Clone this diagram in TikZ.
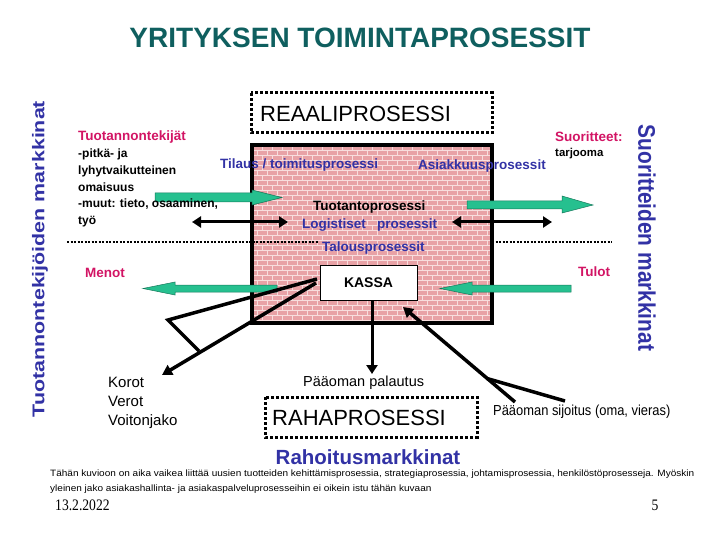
\documentclass[tikz,border=0pt]{standalone}
\usepackage{fontspec}
\setmainfont{Liberation Sans}
\newfontfamily\seriffont{Liberation Serif}
\usetikzlibrary{arrows.meta}
\definecolor{titlecol}{RGB}{15,95,95}
\definecolor{bluetxt}{RGB}{50,50,165}
\definecolor{magtxt}{RGB}{210,20,100}
\definecolor{brickcol}{RGB}{232,162,166}
\definecolor{mortarcol}{RGB}{248,222,222}
\definecolor{tealfill}{RGB}{38,192,143}
\definecolor{tealline}{RGB}{20,120,90}
\tikzset{
  bigbox/.style={draw=black, line width=3pt, dash pattern=on 3pt off 2pt},
  sepline/.style={draw=black, line width=1.4pt, dash pattern=on 2pt off 1.5pt},
  blockarrow/.style={fill=tealfill, draw=tealline, line width=0.5pt},
  blackarrow/.style={draw=black, line width=3pt, -{Triangle[length=9pt,width=11pt]}},
  dblarrow/.style={draw=black, line width=3pt, {Triangle[length=9pt,width=11pt]}-{Triangle[length=9pt,width=11pt]}},
  thickline/.style={draw=black, line width=3.5pt, line join=miter},
  bluebold/.style={text=bluetxt, font=\bfseries\fontsize{13.5}{15}\selectfont, inner sep=0pt},
  magbold/.style={text=magtxt, font=\bfseries\fontsize{13.5}{15}\selectfont, inner sep=0pt},
  plain/.style={inner sep=0pt},
}
\begin{document}
\begin{tikzpicture}[x=1pt,y=-1pt]
\useasboundingbox (0,0) rectangle (720,540);
% title
\node[plain, text=titlecol, font=\bfseries\fontsize{28}{30}\selectfont] (title) at (360,38) {YRITYKSEN TOIMINTAPROSESSIT};
% vertical labels
\node[plain, text=bluetxt, rotate=90] (leftmk) at (40,259) {\scalebox{1.26}[1]{\bfseries\fontsize{17}{19}\selectfont Tuotannontekijöiden markkinat}};
\node[plain, text=bluetxt, rotate=-90] (rightmk) at (647,238) {\scalebox{0.87}[1]{\bfseries\fontsize{24}{26}\selectfont Suoritteiden markkinat}};
% brick box
\begin{scope}
\clip (252,145) rectangle (492,323);
\fill[brickcol] (252,145) rectangle (492,323);
\foreach \r in {0,...,36} {
  \pgfmathsetmacro\yy{145+5*\r}
  \pgfmathsetmacro\off{mod(\r,2)*5}
  \draw[mortarcol, line width=0.9pt] (252,\yy) -- (492,\yy);
  \foreach \c in {0,...,24} {
    \draw[mortarcol, line width=0.9pt] ({252+\off+10*\c},\yy) -- ++(0,5);
  }
}
\end{scope}
\draw[line width=4pt] (252,145) rectangle (492,323);
% separator
\draw[sepline] (67,242) -- (318,242);
\draw[sepline] (492,242) -- (612,242);
% REAALIPROSESSI
\draw[bigbox] (251,93) rectangle (492,133);
\node[plain, anchor=west, font=\fontsize{22}{24}\selectfont] (reaali) at (260,114) {REAALIPROSESSI};
% RAHAPROSESSI
\draw[bigbox] (265,397) rectangle (477,437);
\node[plain, anchor=west, font=\fontsize{22}{24}\selectfont] (raha) at (272,418) {RAHAPROSESSI};
% teal block arrows
\draw[blockarrow] (155,193) -- (252,193) -- (252,190) -- (282,197.5) -- (252,205) -- (252,202) -- (155,202) -- cycle;
\draw[blockarrow] (467,201) -- (562,201) -- (562,196) -- (593,205) -- (562,213) -- (562,209) -- (467,209) -- cycle;
\draw[blockarrow] (277,285) -- (175,285) -- (175,282) -- (143,288.5) -- (175,295) -- (175,292) -- (277,292) -- cycle;
\draw[blockarrow] (571,285) -- (472,285) -- (472,282) -- (440,288.5) -- (472,295) -- (472,292) -- (571,292) -- cycle;
% texts in box
\node[bluebold, anchor=west] (tilaus) at (220,165) {Tilaus / toimitusprosessi};
\node[bluebold, anchor=west] (asiakas) at (418,166) {Asiakkuusprosessit};
\node[plain, anchor=west, font=\bfseries\fontsize{13.5}{15}\selectfont] (tuot) at (313,207) {Tuotantoprosessi};
\node[bluebold, anchor=west] (logist) at (302,225) {Logistiset\ \ \ prosessit};
\node[bluebold, anchor=west] (talous) at (322,248) {Talousprosessit};
% KASSA
\node[draw=black, fill=white, line width=0.6pt, minimum width=97pt, minimum height=35pt, inner sep=0pt, font=\bfseries\fontsize{14}{16}\selectfont] (kassa) at (368.5,282.5) {KASSA};
% left texts
\node[magbold, anchor=west] (tekijat) at (78,137) {Tuotannontekijät};
\node[plain, anchor=north west, align=left, font=\bfseries\fontsize{12}{16.7}\selectfont] (tekijalist) at (78,149) {-pitkä- ja\\lyhytvaikutteinen\\omaisuus\\-muut: tieto, osaaminen,\\työ};
\node[magbold, anchor=west] (suor) at (555,137) {Suoritteet:};
\node[plain, anchor=west, font=\bfseries\fontsize{11.4}{13}\selectfont] (tarj) at (555,154) {tarjooma};
\node[magbold, anchor=west] (menot) at (85,273) {Menot};
\node[magbold, anchor=west] (tulot) at (578,272) {Tulot};
\node[plain, anchor=north west, align=left, font=\fontsize{15}{19}\selectfont] (korot) at (108,377) {Korot\\Verot\\Voitonjako};
\node[plain, anchor=west, font=\fontsize{14.5}{16}\selectfont] (palautus) at (303,383) {Pääoman palautus};
\node[plain, anchor=west, font=\fontsize{14.5}{16}\selectfont] (sijoitus) at (493,412) {\scalebox{0.89}[1]{Pääoman sijoitus (oma, vieras)}};
\node[plain, text=bluetxt, font=\bfseries\fontsize{20.5}{22}\selectfont] (rahoitus) at (368,457) {Rahoitusmarkkinat};
\node[plain, anchor=north west, align=left, font=\fontsize{9.2}{14.5}\selectfont] (foot) at (50,470) {\scalebox{1.09}[1]{Tähän kuvioon on aika vaikea liittää uusien tuotteiden kehittämisprosessia, strategiaprosessia, johtamisprosessia, henkilöstöprosesseja. Myöskin}\\\scalebox{1.09}[1]{yleinen jako asiakashallinta- ja asiakaspalveluprosesseihin ei oikein istu tähän kuvaan}};
\node[plain, anchor=west, font=\seriffont\fontsize{16}{18}\selectfont] (date) at (55,505) {\scalebox{0.85}[1]{13.2.2022}};
\node[plain, font=\seriffont\fontsize{16}{18}\selectfont] (page) at (655,505) {\scalebox{0.85}[1]{5}};
% black double arrows
\coordinate (dl1) at (192,222); \coordinate (dl2) at (288,222);
\coordinate (dr1) at (452,222); \coordinate (dr2) at (552,222);
\draw[dblarrow] (dl1) -- (dl2);
\draw[dblarrow] (dr1) -- (dr2);
% KASSA to palautus
\coordinate (downtip) at (372,374);
\draw[blackarrow] (kassa.south -| downtip) -- (downtip);
% zigzag lines to Korot
\coordinate (zA) at (317,279); \coordinate (zB) at (168,320); \coordinate (zC) at (199,351);
\coordinate (zE) at (316,283); \coordinate (zT) at (162,375);
\draw[thickline] (zA) -- (zB) -- (zC);
\draw[thickline, -{Triangle[length=10pt,width=11pt]}] (zE) -- (zT);
% sijoitus lines
\coordinate (sT) at (403,307); \coordinate (sS) at (515,402);
\coordinate (sM) at (487,378.5); \coordinate (sR) at (565,401);
\draw[thickline, -{Triangle[length=10pt,width=11pt]}] (sS) -- (sT);
\draw[thickline] (sM) -- (sR);
\end{tikzpicture}
\end{document}
